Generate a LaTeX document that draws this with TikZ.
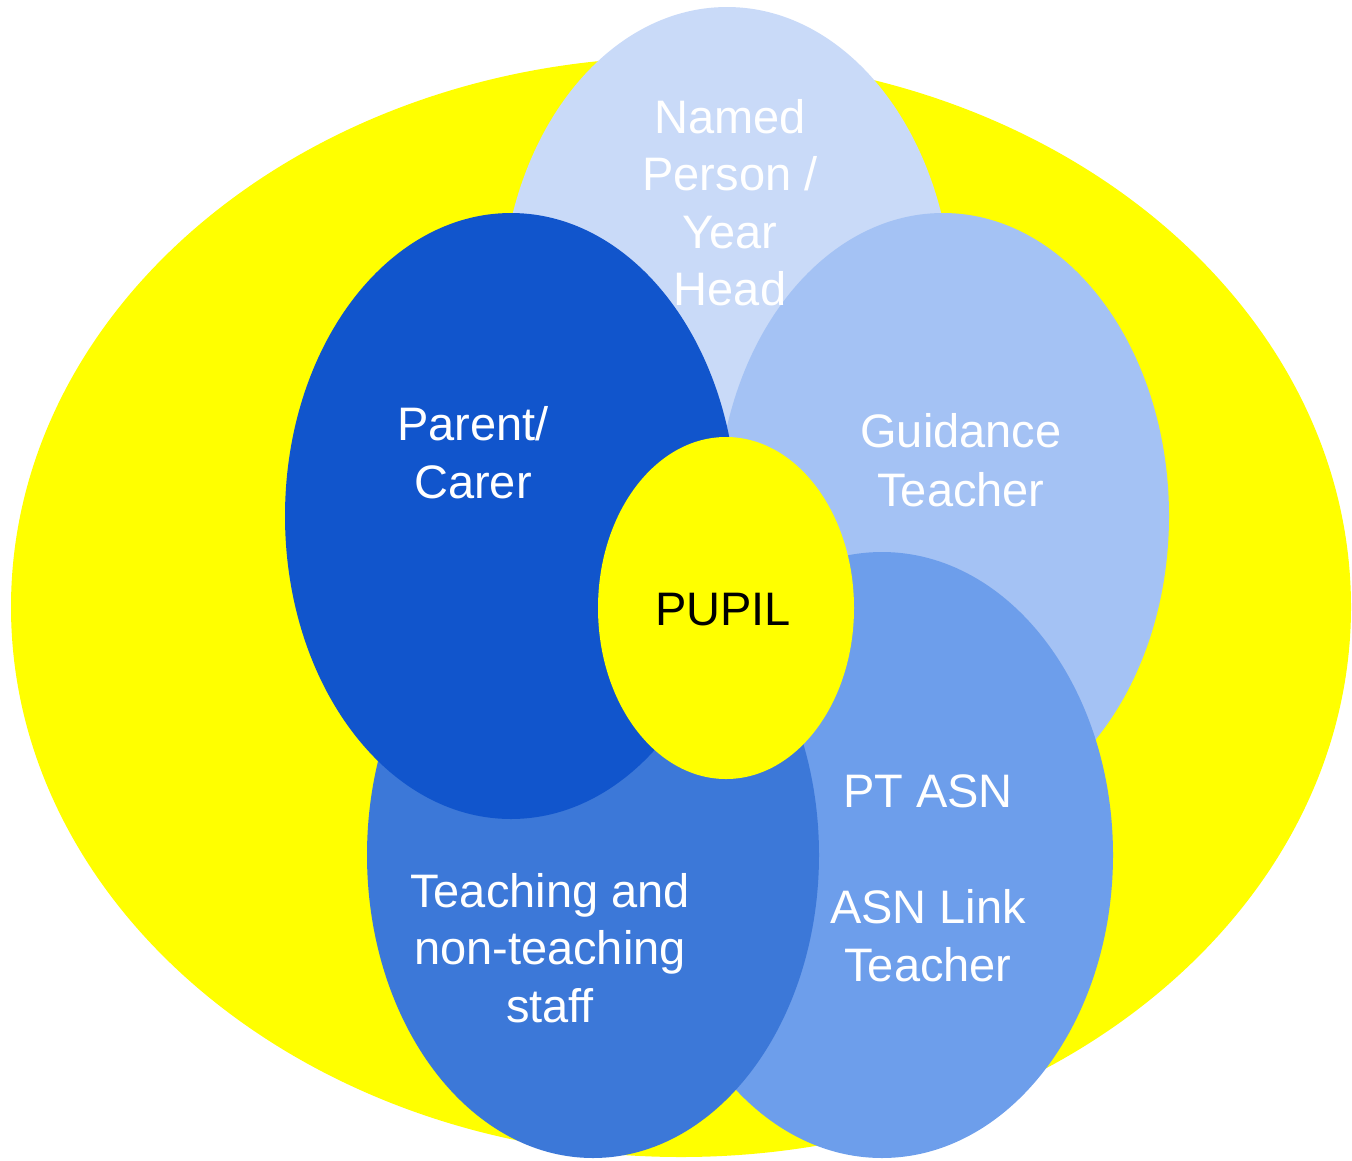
\documentclass[tikz,border=0pt]{standalone}
\usepackage{fontspec}
\setmainfont{Liberation Sans}
\usetikzlibrary{shapes.geometric}
\definecolor{bigyellow}{HTML}{FFFF00}
\definecolor{namedcol}{HTML}{C9DAF8}
\definecolor{guidcol}{HTML}{A4C2F4}
\definecolor{ptcol}{HTML}{6D9EEB}
\definecolor{teachcol}{HTML}{3C78D8}
\definecolor{parentcol}{HTML}{1155CC}
\tikzset{
  blob/.style={ellipse, draw=none, inner sep=0pt, minimum width=452pt, minimum height=606pt},
  lbl/.style={text=white, align=center, inner sep=0pt, font=\fontsize{47}{57.5}\selectfont},
}
\begin{document}
\begin{tikzpicture}[x=1pt,y=-1pt]
\useasboundingbox (0,0) rectangle (1352,1160);
\node[blob, fill=bigyellow, minimum width=1340pt, minimum height=1100pt] (world) at (681,607) {};
\node[blob, fill=namedcol] (named) at (727,310) {};
\node[blob, fill=guidcol] (guidance) at (943,516) {};
\node[blob, fill=ptcol, minimum width=462pt] (ptasn) at (882,855) {};
\node[blob, fill=teachcol] (teaching) at (593,855) {};
\node[blob, fill=parentcol] (parent) at (511,516) {};
\node[blob, fill=bigyellow, minimum width=256pt, minimum height=342pt] (pupil) at (726,608) {};
\node[lbl] (namedtxt) at (730,202.5) {Named\\Person /\\Year\\Head};
\node[lbl] (parenttxt) at (473,452.5) {Parent/\\Carer};
\node[lbl, font=\fontsize{47}{59.5}\selectfont] (guidtxt) at (961,460) {Guidance\\Teacher};
\node[lbl, text=black] (pupiltxt) at (723,610) {PUPIL};
\node[lbl, font=\fontsize{47}{58}\selectfont] (pttxt) at (928,878.3) {PT ASN\\\mbox{}\\ASN Link\\Teacher};
\node[lbl] (teachtxt) at (550,947.8) {Teaching and\\non-teaching\\staff};
\end{tikzpicture}
\end{document}
